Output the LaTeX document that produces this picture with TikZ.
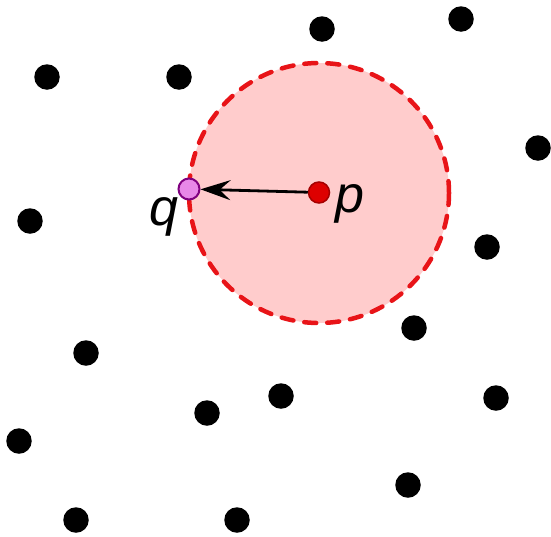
\documentclass[tikz,border=0pt]{standalone}
\usepackage{fontspec}
\setmainfont{Liberation Sans}
\usetikzlibrary{arrows.meta}
\definecolor{disk}{RGB}{255,204,204}
\definecolor{rim}{RGB}{232,20,24}
\definecolor{pfill}{RGB}{222,0,0}
\definecolor{pline}{RGB}{165,0,0}
\definecolor{qfill}{RGB}{232,136,232}
\definecolor{qline}{RGB}{128,0,128}
\tikzset{
  site/.style={circle,fill=black,inner sep=0pt,minimum size=25.5pt},
  lbl/.style={anchor=base,inner sep=0pt,font=\fontsize{52}{62}\selectfont\itshape},
}
\begin{document}
\begin{tikzpicture}[x=1pt,y=-1pt]
\useasboundingbox (0,0) rectangle (551,536);
\fill[disk] (319,193) circle (130);
\draw[rim,line width=4.5pt,dash pattern=on 12pt off 11pt,line cap=round] (319,193) circle (130);
\node[circle,fill=pfill,draw=pline,line width=1.5pt,inner sep=0pt,minimum size=21pt] (p) at (319,192.5) {};
\node[circle,fill=qfill,draw=qline,line width=2pt,inner sep=0pt,minimum size=21pt] (q) at (189,189) {};
\draw[line width=2.8pt,-{Stealth[length=30pt,width=20pt,inset=11pt]}] (p) -- (q);
\node[lbl] (plabel) at (350,212) {p};
\node[lbl] (qlabel) at (164,225) {q};
\node[site] (d1) at (322,29) {};
\node[site] (d2) at (461,19) {};
\node[site] (d3) at (47,77) {};
\node[site] (d4) at (179,77) {};
\node[site] (d5) at (538,148) {};
\node[site] (d6) at (30,221) {};
\node[site] (d7) at (487,247) {};
\node[site] (d8) at (414,328) {};
\node[site] (d9) at (86,353) {};
\node[site] (d10) at (281,396) {};
\node[site] (d11) at (207,413) {};
\node[site] (d12) at (496,398) {};
\node[site] (d13) at (19,441) {};
\node[site] (d14) at (408,485) {};
\node[site] (d15) at (76,520) {};
\node[site] (d16) at (237,520) {};
\end{tikzpicture}
\end{document}
